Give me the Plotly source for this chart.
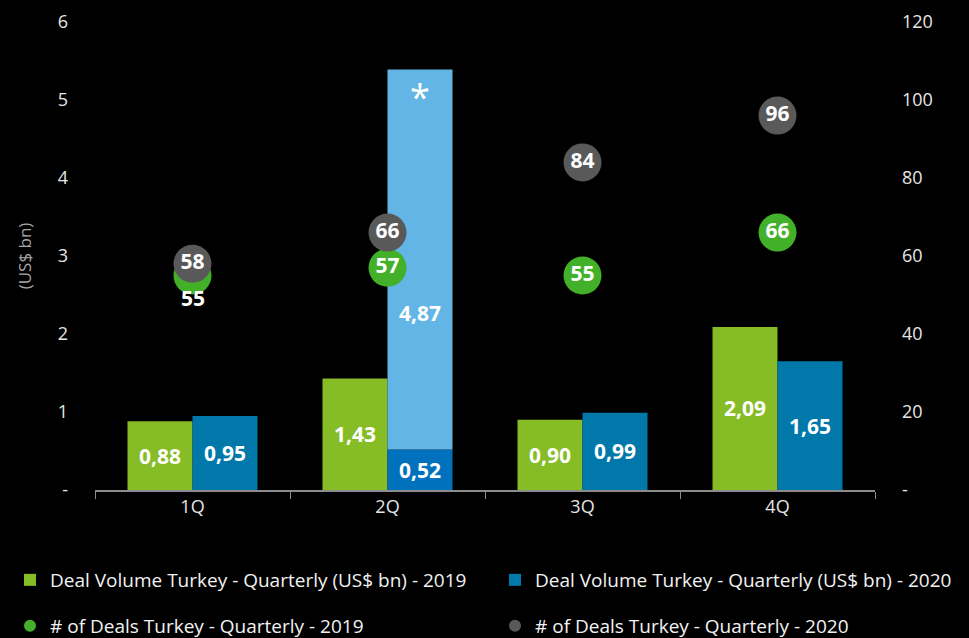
import plotly.graph_objects as go

quarters = ["1Q", "2Q", "3Q", "4Q"]
vol_2019 = [0.88, 1.43, 0.90, 2.09]
vol_2020 = [0.95, 0.52, 0.99, 1.65]
extra_2q_2020 = [4.87]          # stacked light-blue part in 2Q
extra_quarter = ["2Q"]
deals_2019 = [55, 57, 55, 66]
deals_2020 = [58, 66, 84, 96]
left_ticks = [0, 1, 2, 3, 4, 5, 6]
left_tick_text = ["-", "1", "2", "3", "4", "5", "6"]
right_ticks = [0, 20, 40, 60, 80, 100, 120]
right_tick_text = ["-", "20", "40", "60", "80", "100", "120"]

GREEN_BAR = "#86BC25"
BLUE_BAR = "#0078A9"
BLUE_2Q = "#0071BD"
LIGHT_BLUE = "#62B5E5"
GREEN_DOT = "#43B02A"
GRAY_DOT = "#595959"
FONT = "Open Sans"

fig = go.Figure()

fig.add_trace(go.Bar(
    x=quarters, y=vol_2019, name="Deal Volume Turkey - Quarterly (US$ bn) - 2019",
    marker=dict(color=GREEN_BAR, line=dict(width=0)), offsetgroup="a",
    text=[f"{v:.2f}".replace(".", ",") for v in vol_2019],
    textposition="inside", insidetextanchor="middle",
    textfont=dict(color="white", size=21, family=FONT, weight="bold"),
    legend="legend", yaxis="y",
))
fig.add_trace(go.Bar(
    x=quarters, y=vol_2020, name="Deal Volume Turkey - Quarterly (US$ bn) - 2020",
    marker=dict(color=[BLUE_BAR, BLUE_2Q, BLUE_BAR, BLUE_BAR], line=dict(width=0)),
    offsetgroup="b",
    text=[f"{v:.2f}".replace(".", ",") for v in vol_2020],
    textposition="inside", insidetextanchor="middle",
    textfont=dict(color="white", size=21, family=FONT, weight="bold"),
    legend="legend2", yaxis="y",
))
fig.add_trace(go.Bar(
    x=extra_quarter, y=extra_2q_2020, base=[vol_2020[1]],
    marker=dict(color=LIGHT_BLUE, line=dict(width=0)), offsetgroup="b",
    showlegend=False, textposition="none", yaxis="y",
))

# 1Q 2019 label sits just below its marker (overlap with 2020 marker)
text_2019 = ["" if q == "1Q" else str(v) for q, v in zip(quarters, deals_2019)]
fig.add_trace(go.Scatter(
    x=quarters, y=deals_2019, mode="markers+text",
    name="# of Deals Turkey - Quarterly - 2019",
    marker=dict(color=GREEN_DOT, size=38),
    text=text_2019, textposition="middle center",
    textfont=dict(color="white", size=21, family=FONT, weight="bold"),
    yaxis="y2", legend="legend3", cliponaxis=False,
))
fig.add_trace(go.Scatter(
    x=quarters, y=deals_2020, mode="markers+text",
    name="# of Deals Turkey - Quarterly - 2020",
    marker=dict(color=GRAY_DOT, size=38),
    text=[str(v) for v in deals_2020],
    textposition="middle center",
    textfont=dict(color="white", size=21, family=FONT, weight="bold"),
    yaxis="y2", legend="legend4", cliponaxis=False,
))
fig.add_annotation(x=quarters[0], y=deals_2019[0], xref="x", yref="y2", yshift=-22,
                   text="<b>" + str(deals_2019[0]) + "</b>", showarrow=False,
                   font=dict(color="white", size=21, family=FONT))

# labels on the light-blue 2Q segment
total_2q = vol_2020[1] + extra_2q_2020[0]
fig.add_annotation(x="2Q", y=vol_2020[1] + extra_2q_2020[0] * 0.36, xref="x", yref="y",
                   xshift=32.5, text="<b>" + f"{extra_2q_2020[0]:.2f}".replace(".", ",") + "</b>",
                   showarrow=False, font=dict(color="white", size=21, family=FONT))
fig.add_annotation(x="2Q", y=total_2q, xref="x", yref="y", yanchor="top",
                   xshift=32.5, yshift=0, text="*",
                   showarrow=False, font=dict(color="white", size=36, family=FONT))

legend_common = dict(
    orientation="h", font=dict(color="#f2f2f2", size=19, family=FONT),
    bgcolor="rgba(0,0,0,0)", itemsizing="constant",
    xanchor="left", yanchor="middle", itemclick=False, itemdoubleclick=False,
)
# plot area: x 95..875 (780 px), y 22..490 (468 px)
col1_x = (10 - 95) / 780
col2_x = (495 - 95) / 780
row1_y = (490 - 580) / 468
row2_y = (490 - 626) / 468

fig.update_layout(
    width=969, height=638,
    paper_bgcolor="black", plot_bgcolor="black",
    margin=dict(l=95, r=94, t=22, b=148, autoexpand=False),
    barmode="group", bargap=1/3, bargroupgap=0,
    font=dict(family=FONT, color="#e6e6e6"),
    xaxis=dict(
        type="category", showgrid=False, zeroline=False,
        showline=True, linecolor="#8c8c8c", linewidth=1.5,
        ticks="outside", tickson="boundaries", ticklen=7, tickcolor="#8c8c8c",
        tickfont=dict(size=18, color="#e6e6e6", family=FONT),
    ),
    yaxis=dict(
        range=[0, 6], tickvals=left_ticks, ticktext=left_tick_text,
        showgrid=False, zeroline=False, showline=False, ticks="",
        ticklabelstandoff=26,
        tickfont=dict(size=18, color="#e6e6e6", family=FONT),
        title=dict(text="(US$ bn)", font=dict(size=17, color="#a6a6a6", family=FONT), standoff=21),
    ),
    yaxis2=dict(
        range=[0, 120], tickvals=right_ticks, ticktext=right_tick_text,
        overlaying="y", side="right", showgrid=False, zeroline=False, showline=False,
        ticks="", ticklabelstandoff=26,
        tickfont=dict(size=18, color="#e6e6e6", family=FONT),
    ),
    legend=dict(legend_common, x=col1_x, y=row1_y),
    legend2=dict(legend_common, x=col2_x, y=row1_y),
    legend3=dict(legend_common, x=col1_x, y=row2_y),
    legend4=dict(legend_common, x=col2_x, y=row2_y),
    separators=", ",
    hovermode=False,
)

fig.write_html(
    "out.html",
    config={"displayModeBar": False},
    post_script="document.body.style.margin='0';document.body.style.background='black';",
)
